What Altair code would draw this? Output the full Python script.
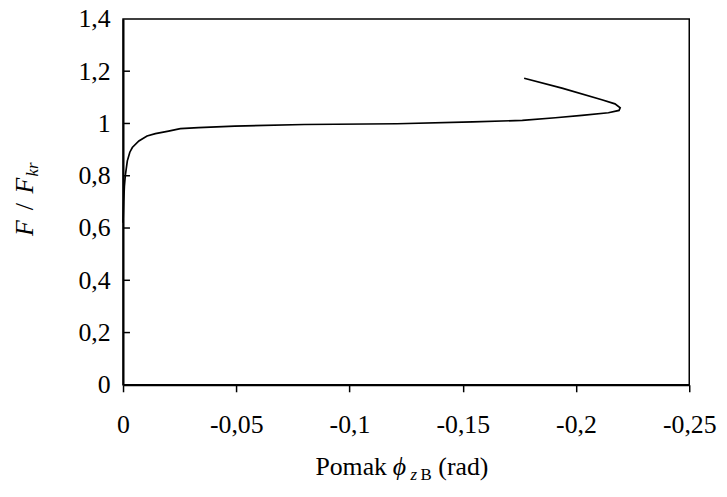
import altair as alt
import pandas as pd

# Data
phi = [0.0, -0.0003, -0.0006, -0.0010, -0.0019, -0.0030, -0.0041, -0.0070, -0.0106,
       -0.0143, -0.0201, -0.0253, -0.0333, -0.0493, -0.080, -0.121, -0.1544, -0.1763,
       -0.1909, -0.2026, -0.2143, -0.2190, -0.2195, -0.2172, -0.2114, -0.1938, -0.1771]
f_ratio = [0.62, 0.70, 0.76, 0.80, 0.857, 0.89, 0.908, 0.933, 0.952,
           0.961, 0.971, 0.980, 0.984, 0.990, 0.996, 0.999, 1.006, 1.012,
           1.022, 1.031, 1.041, 1.050, 1.060, 1.075, 1.091, 1.135, 1.173]
x_ticks = [0, -0.05, -0.1, -0.15, -0.2, -0.25]
y_ticks = [0, 0.2, 0.4, 0.6, 0.8, 1, 1.2, 1.4]

FONT = "Liberation Serif"
FS = 26
SUB = 17

df = pd.DataFrame({"phi": phi, "F": f_ratio, "order": list(range(len(phi)))})

xscale = alt.Scale(domain=[-0.25, 0], reverse=True, nice=False, zero=False)
yscale = alt.Scale(domain=[0, 1.4], nice=False)

line = alt.Chart(df).mark_line(color="black", strokeWidth=1.7).encode(
    x=alt.X("phi:Q", scale=xscale,
            axis=alt.Axis(values=x_ticks, title=None, grid=False,
                          labelExpr="replace(toString(datum.value), '.', ',')",
                          tickSize=7, tickColor="black", tickWidth=1.5,
                          domainColor="black", domainWidth=2,
                          labelFont=FONT, labelFontSize=FS, labelColor="black",
                          labelFlush=False, labelOverlap=False,
                          labelPadding=20)),
    y=alt.Y("F:Q", scale=yscale,
            axis=alt.Axis(values=y_ticks, title=None, grid=False, ticks=False,
                          labelExpr="replace(toString(datum.value), '.', ',')",
                          domainColor="black", domainWidth=2,
                          labelFont=FONT, labelFontSize=FS, labelColor="black",
                          labelFlush=False, labelOverlap=False,
                          labelPadding=13)),
    order="order:Q",
)

ytick_df = pd.DataFrame({"v": y_ticks[1:-1]})
yticks = alt.Chart(ytick_df).mark_rule(color="black", strokeWidth=1.5).encode(
    y=alt.Y("v:Q", scale=yscale),
    x=alt.value(0), x2=alt.value(7),
)


def txt(s, x, y, size=FS, style="normal", angle=0):
    return alt.Chart(pd.DataFrame({"t": [s]})).mark_text(
        font=FONT, fontSize=size, fontStyle=style, align="left",
        baseline="alphabetic", angle=angle, color="black",
    ).encode(x=alt.value(x), y=alt.value(y), text="t:N")


# x-axis title: Pomak ϕ_{z B} (rad)   (chart coords = page - (124, 17))
xt = [
    txt("Pomak", 194, 460),
    txt("\u03d5", 272, 460, style="italic"),
    txt("z", 290, 465, size=SUB, style="italic"),
    txt("B", 300, 465, size=SUB),
    txt("(rad)", 318, 460),
]
# y-axis title: F / F_kr rotated
yt = [
    txt("F", -91, 219, style="italic", angle=270),
    txt("/", -91, 193, angle=270),
    txt("F", -91, 176, style="italic", angle=270),
    txt("kr", -86, 159, size=SUB, style="italic", angle=270),
]

chart = alt.layer(line, yticks, *xt, *yt).properties(
    width=571, height=369,
    autosize=alt.AutoSizeParams(type="none"),
    padding={"left": 116, "top": 9, "right": 30, "bottom": 100},
).configure_view(stroke="black", strokeWidth=1.5)

chart.save("out.html", embed_options={"renderer": "svg", "actions": False})
